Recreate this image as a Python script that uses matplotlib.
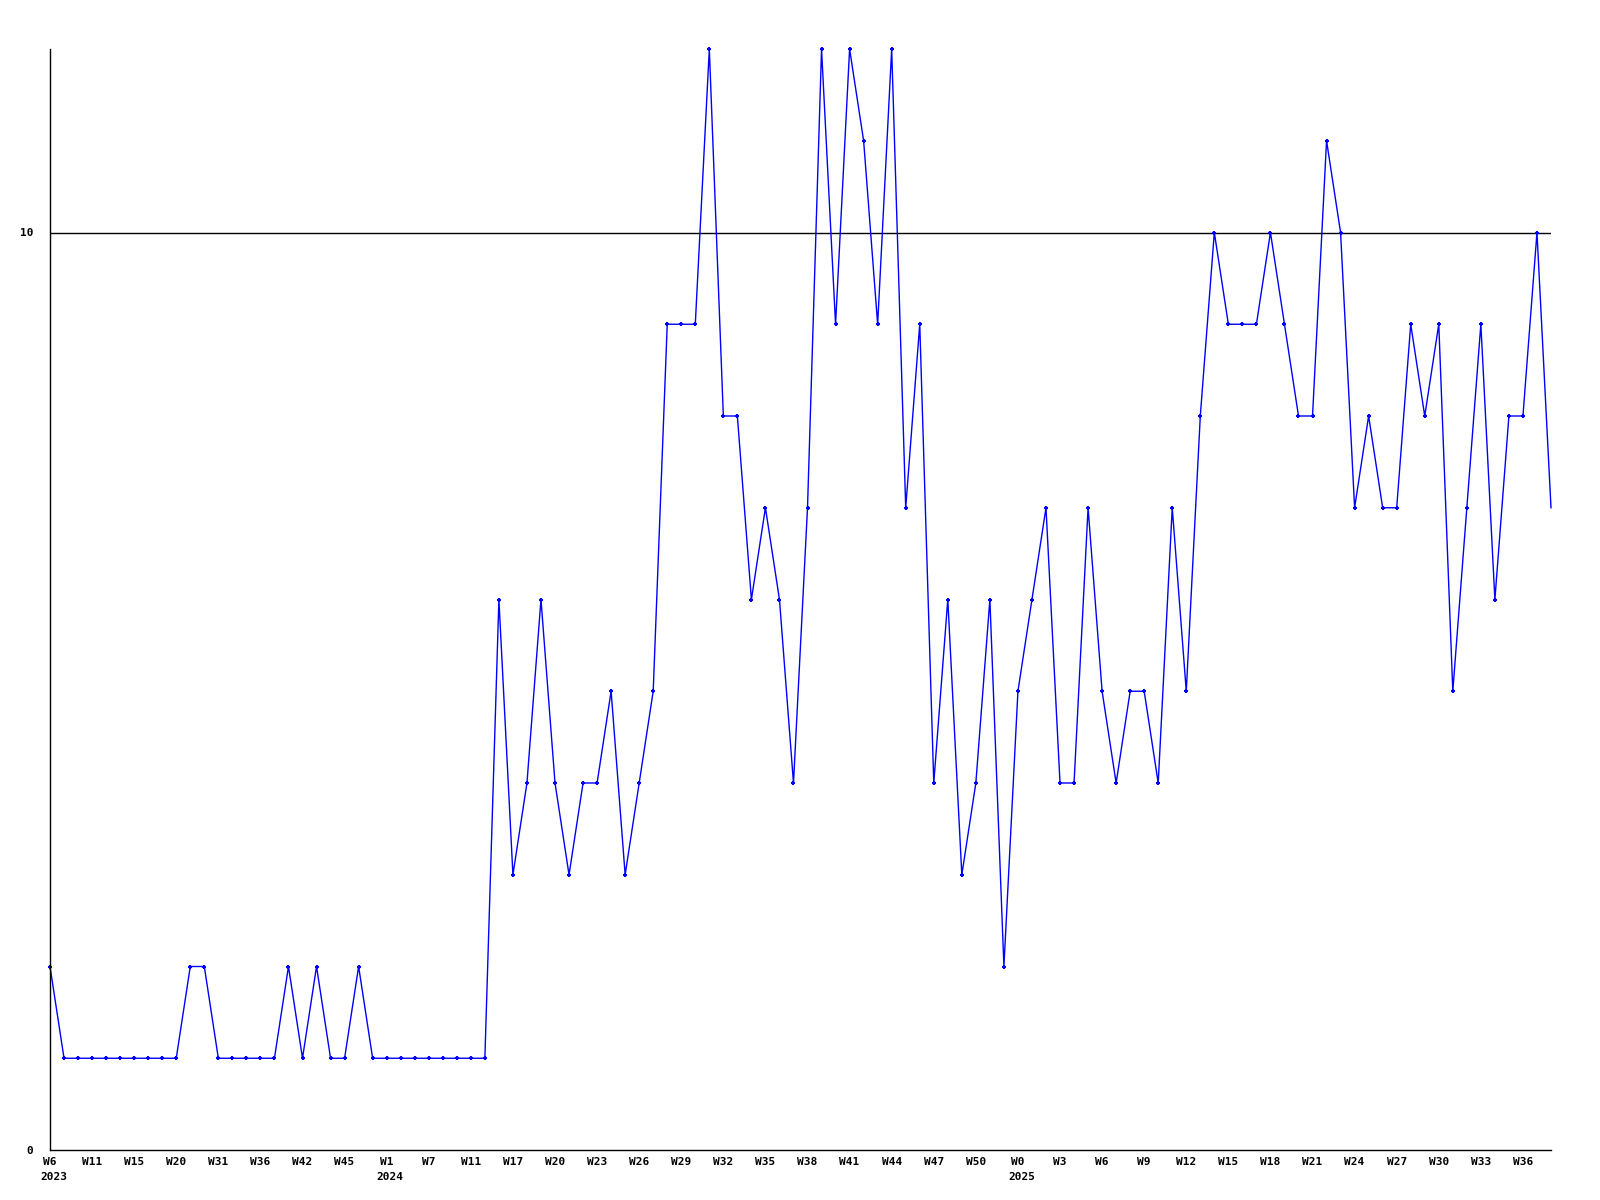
import matplotlib.pyplot as plt
import numpy as np

# weekly counts, one point per week
values = [2, 1, 1, 1, 1, 1, 1, 1, 1, 1, 2, 2, 1, 1, 1, 1, 1, 2, 1, 2,
          1, 1, 2, 1, 1, 1, 1, 1, 1, 1, 1, 1, 6, 3, 4, 6, 4, 3, 4, 4,
          5, 3, 4, 5, 9, 9, 9, 12, 8, 8, 6, 7, 6, 4, 7, 12, 9, 12, 11, 9,
          12, 7, 9, 4, 6, 3, 4, 6, 2, 5, 6, 7, 4, 4, 7, 5, 4, 5, 5, 4,
          7, 5, 8, 10, 9, 9, 9, 10, 9, 8, 8, 11, 10, 7, 8, 7, 7, 9, 8, 9,
          5, 7, 9, 6, 8, 8, 10, 7]

# one label every third week
week_labels = ['W6', 'W11', 'W15', 'W20', 'W31', 'W36', 'W42', 'W45', 'W1',
               'W7', 'W11', 'W17', 'W20', 'W23', 'W26', 'W29', 'W32', 'W35',
               'W38', 'W41', 'W44', 'W47', 'W50', 'W0', 'W3', 'W6', 'W9',
               'W12', 'W15', 'W18', 'W21', 'W24', 'W27', 'W30', 'W33', 'W36']
year_labels = {0: '2023', 24: '2024', 69: '2025'}

x = np.arange(len(values))
font = dict(family='DejaVu Sans Mono', weight='bold', size=8)

fig = plt.figure(figsize=(16, 12), dpi=100)
ax = fig.add_axes([50 / 1600, 50 / 1200, 1501 / 1600, 1101 / 1200])

ax.axhline(10, color='black', lw=1)
ax.plot(x, values, color='#0000ff', lw=1, marker='+', ms=3.5, mew=1.5,
        markevery=list(range(len(values) - 1)), clip_on=False)

ax.set_xlim(0, len(values) - 1)
ax.set_ylim(0, 12)
for s in ['top', 'right']:
    ax.spines[s].set_visible(False)
for s in ['left', 'bottom']:
    ax.spines[s].set_linewidth(1)

ax.set_yticks([0, 10])
ax.set_yticklabels(['0', '10'], **font)
ax.tick_params(axis='y', length=0, pad=12)

ax.set_xticks(x[::3])
ax.set_xticklabels(week_labels, **font)
ax.tick_params(axis='x', length=0, pad=5)

for idx, yr in year_labels.items():
    ax.annotate(yr, xy=(idx, 0), xytext=(-10, -32), textcoords='offset pixels',
                ha='left', va='bottom', annotation_clip=False, **font)

fig.savefig('out.png', dpi=100)
